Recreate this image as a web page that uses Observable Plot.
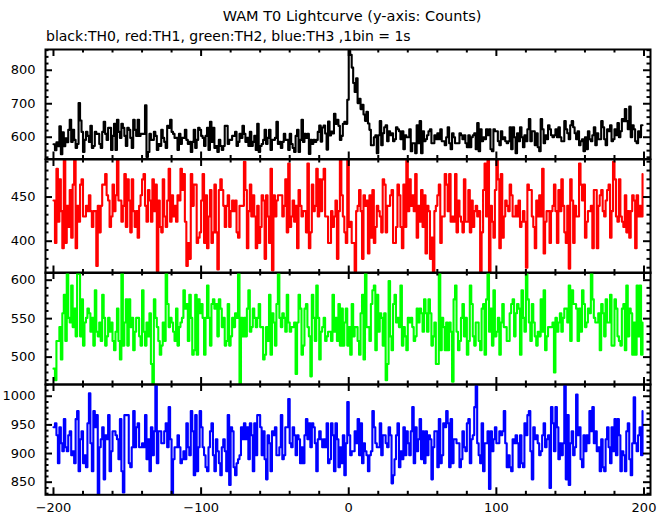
<!DOCTYPE html>
<html>
<head>
<meta charset="utf-8">
<script src="https://cdn.jsdelivr.net/npm/d3@7"></script>
<script src="https://cdn.jsdelivr.net/npm/@observablehq/plot@0.6"></script>
<style>
  html, body { margin: 0; padding: 0; background: #fff; }
  #wrap { position: relative; width: 669px; height: 515px; overflow: hidden; font-family: "DejaVu Sans", sans-serif; color: #000; }
  #title { position: absolute; left: 45px; width: 614px; top: 8px; text-align: center; font-size: 14.5px; }
  #subtitle { position: absolute; left: 46px; top: 28px; font-size: 14px; white-space: nowrap; }
  .panel { position: absolute; left: 0; }
</style>
</head>
<body>
<div id="wrap">
  <div id="title">WAM T0 Lightcurve (y-axis: Counts)</div>
  <div id="subtitle">black:TH0, red:TH1, green:TH2, blue:TH3 ,1bin = 1s</div>
</div>
<script>
// Time bins (s): 1 bin = 1 s, first bin starts at -200
const timeStart = -200;
// TH0 (black) counts per bin
const th0 = [
579,561,585,573,633,549,615,573,597,585,
622,652,586,622,592,568,580,702,650,616,
556,592,616,604,586,634,568,574,616,610,
610,580,568,616,646,610,592,628,628,562,
604,640,562,652,616,598,640,628,604,574,
628,622,598,568,652,622,604,652,604,610,
610,610,695,541,556,610,592,592,616,604,
562,580,574,622,598,586,568,634,628,652,
616,610,598,598,562,610,580,598,598,622,
592,580,586,556,586,622,568,592,628,622,
604,598,574,604,628,562,646,586,628,568,
574,556,592,574,562,574,634,634,580,592,
592,604,604,616,574,586,610,598,634,610,
586,598,574,616,574,586,604,562,640,556,
574,580,592,622,580,598,622,562,592,592,
598,646,580,586,568,586,610,592,592,562,
610,580,568,556,604,622,556,592,652,586,
610,598,610,550,592,580,592,586,592,616,
635,587,629,635,611,563,647,605,617,611,
670,640,652,634,592,604,640,646,640,712,
858,846,808,762,735,776,702,715,684,697,
668,649,676,641,622,576,576,600,606,552,
606,648,576,612,630,636,588,618,606,612,
588,594,630,624,618,594,618,564,606,600,
600,624,558,582,582,552,636,582,648,552,
618,588,594,606,618,624,582,582,606,594,
612,594,624,588,588,576,600,630,582,564,
612,600,582,582,582,612,606,594,606,582,
570,606,570,600,606,612,564,642,558,624,
588,600,594,624,606,624,564,558,624,618,
618,588,576,618,594,600,588,582,588,630,
564,630,600,552,612,588,630,600,570,606,
588,624,654,588,618,618,576,612,570,558,
654,624,582,606,594,636,624,606,600,606,
624,600,630,600,588,588,648,624,612,594,
636,648,630,612,594,618,576,588,594,558,
600,564,618,594,588,606,630,576,612,594,
594,648,630,594,576,624,618,636,588,594,
624,606,642,600,618,654,648,684,648,624,
692,600,636,624,588,582,618,600,636,636
];
// TH1 (red)
const th1 = [
446,398,482,422,470,434,392,497,398,440,
416,458,404,464,492,392,440,422,464,470,
428,428,440,434,452,434,416,434,434,372,
440,410,440,464,464,476,452,446,416,428,
464,434,452,493,446,446,422,440,476,416,
470,446,410,470,434,416,434,404,440,452,
470,476,440,422,458,446,422,470,434,464,
366,446,416,410,470,428,416,446,482,422,
452,428,440,422,452,446,482,458,476,422,
372,398,380,476,440,464,464,398,404,410,
446,476,398,452,392,428,458,398,410,464,
410,368,458,470,458,440,416,440,452,416,
434,446,434,446,410,404,440,440,440,490,
458,392,434,464,428,452,428,392,440,398,
416,452,446,380,452,428,398,482,367,452,
428,446,452,452,452,428,440,470,410,488,
416,428,446,422,440,392,458,440,428,434,
434,410,488,392,410,464,434,440,482,428,
470,434,470,482,428,428,398,398,434,416,
428,446,380,434,496,452,428,410,398,495,
416,422,398,398,366,434,440,458,434,380,
452,440,446,386,452,404,458,398,416,440,
434,428,410,470,464,410,440,440,452,458,
398,398,416,464,452,416,392,464,416,491,
434,470,440,452,434,476,404,440,422,458,
416,452,386,440,434,380,404,362,434,440,
452,464,398,428,428,476,464,434,476,422,
428,422,476,410,446,428,422,410,470,422,
422,458,410,446,416,434,440,428,434,365,
410,458,488,428,499,364,440,422,404,458,
497,470,392,476,404,428,446,440,434,464,
452,428,428,440,428,446,416,422,434,422,
370,464,458,458,428,416,392,446,428,452,
428,482,386,422,434,434,398,434,440,464,
434,398,458,434,470,440,410,398,440,369,
470,446,398,440,428,428,488,464,446,464,
404,422,434,434,440,392,458,458,392,440,
452,458,434,428,446,458,464,404,434,490,
470,428,422,470,428,422,416,452,410,434,
404,434,452,446,392,452,428,440,428,476
];
// TH2 (green)
const th2 = [
485,470,521,521,539,497,557,581,521,612,
551,545,593,539,563,527,615,608,527,575,
515,545,551,563,557,533,551,515,587,533,
527,545,521,581,551,515,527,551,533,545,
521,509,533,563,521,497,611,515,545,575,
515,575,539,551,509,533,551,551,527,515,
587,533,515,545,527,557,491,466,575,551,
539,521,503,515,545,521,612,569,539,551,
545,533,521,563,515,539,545,551,587,563,
569,521,581,551,503,509,581,503,575,557,
569,551,503,551,593,551,515,569,575,563,
569,527,575,563,539,551,515,521,569,515,
527,551,539,557,551,615,465,551,527,551,
527,563,587,533,539,563,551,539,551,569,
539,539,497,503,539,521,581,503,557,545,
515,569,610,551,539,557,551,533,581,545,
533,539,539,545,478,545,581,563,503,515,
563,569,539,527,475,581,551,521,593,551,
497,533,539,551,521,527,533,533,521,581,
533,551,521,569,515,563,515,545,563,515,
539,503,569,527,539,539,521,503,557,581,
497,613,539,539,521,569,587,593,509,581,
533,557,551,515,557,470,491,599,527,509,
569,581,545,551,539,593,515,539,527,509,
551,545,551,539,521,527,563,545,563,557,
533,575,557,533,575,557,515,527,545,491,
491,612,509,551,539,509,545,509,545,533,
468,575,593,533,509,521,551,569,527,551,
503,521,593,569,527,515,545,545,521,509,
563,569,503,575,613,533,563,515,587,527,
533,551,503,545,569,539,539,521,521,557,
569,575,527,557,569,563,503,587,551,533,
611,575,545,521,569,545,527,515,533,527,
575,533,587,509,527,539,539,539,545,480,
551,533,545,557,533,551,563,563,545,593,
521,587,569,569,563,521,563,533,587,569,
539,545,563,557,609,575,551,545,545,557,
509,569,557,527,575,545,545,581,515,515,
575,563,527,521,515,563,569,509,593,527,
563,557,503,545,503,593,527,593,503,545
];
// TH3 (blue)
const th3 = [
946,953,932,883,946,918,904,960,911,904,
932,939,897,904,883,960,974,869,925,939,
883,897,876,953,1005,918,869,974,946,967,
828,911,925,946,855,932,925,967,869,904,
939,939,932,925,890,960,869,832,967,967,
967,883,876,911,974,911,946,953,911,911,
918,911,967,890,925,869,946,897,939,1020,
883,939,939,918,918,939,953,911,981,925,
829,890,911,911,932,911,883,890,904,890,
953,911,897,974,939,862,967,869,911,974,
946,911,897,876,869,911,939,953,897,869,
925,904,883,862,911,925,904,869,967,845,
946,939,876,862,883,890,897,946,925,953,
925,946,890,953,932,869,953,897,967,967,
946,897,939,890,855,932,918,869,939,932,
946,897,897,911,967,890,897,946,946,995,
918,911,946,932,897,932,925,883,911,883,
932,960,925,953,911,953,946,918,869,925,
939,925,911,925,911,953,883,890,953,932,
869,953,925,876,911,883,932,862,918,990,
932,897,904,904,939,918,960,897,953,883,
918,904,897,869,897,904,974,946,918,911,
911,953,897,932,932,918,911,946,932,848,
862,890,932,953,876,904,890,946,897,939,
918,897,939,981,883,946,904,925,960,890,
939,883,939,897,932,925,855,911,939,939,
876,960,883,897,953,946,974,953,876,960,
883,925,925,918,918,876,890,939,911,904,
953,960,883,925,932,981,1018,918,897,883,
953,869,918,918,939,838,939,904,925,946,
918,918,939,932,939,974,918,876,897,876,
869,925,918,932,918,876,932,883,876,953,
932,967,974,904,855,946,925,932,918,897,
904,932,953,911,925,932,840,981,953,904,
981,946,890,918,897,918,1020,855,967,845,
918,939,897,911,1003,932,946,890,876,932,
904,932,918,974,939,981,918,939,904,911,
869,925,876,869,925,946,911,883,946,904,
960,897,960,932,869,904,897,869,939,953,
890,862,918,998,918,904,932,946,897,974
];

// Axis tick values
const xMajor = [-200, -100, 0, 100, 200];
const xMinor = [-180, -160, -140, -120, -80, -60, -40, -20, 20, 40, 60, 80, 120, 140, 160, 180];
const xLabels = [-200, -100, 0, 100, 200];
const xDomain = [-205.4, 204.4];

const panels = [
  {values: th0, color: "#000000", domain: [535, 862],     major: [600, 700, 800],         minorStep: 20, top: 49,    bottom: 158.5},
  {values: th1, color: "#ff0000", domain: [364, 492.5],   major: [400, 450],              minorStep: 10, top: 158.5, bottom: 272},
  {values: th2, color: "#00ff00", domain: [464.4, 610],   major: [500, 550, 600],         minorStep: 10, top: 272,   bottom: 384},
  {values: th3, color: "#0000ff", domain: [828, 1020.5],  major: [850, 900, 950, 1000],   minorStep: 10, top: 384,   bottom: 494.3}
];

const wrap = document.getElementById("wrap");
const W = 669, ML = 45, MR = 19, pad = 2;

panels.forEach((p, i) => {
  const last = i === panels.length - 1;
  const innerH = p.bottom - p.top;
  const mb = last ? 21 : pad;
  const H = innerH + pad + mb;
  const data = p.values.map((v, k) => ({t: timeStart + k, c: v}));
  const lo = Math.ceil(p.domain[0] / p.minorStep) * p.minorStep;
  const yMinor = d3.range(lo, p.domain[1], p.minorStep).filter(v => !p.major.includes(v));
  const innerW = W - ML - MR;
  const maj = 7, mnr = 3.5;
  const marks = [
    Plot.line(data, {x: "t", y: "c", curve: "step-after", stroke: p.color, strokeWidth: 2.1, clip: true}),
    Plot.tickX(xMajor, {x: d => d, insetBottom: innerH - maj, stroke: "black", strokeWidth: 2}),
    Plot.tickX(xMajor, {x: d => d, insetTop: innerH - maj, stroke: "black", strokeWidth: 2}),
    Plot.tickX(xMinor, {x: d => d, insetBottom: innerH - mnr, stroke: "black", strokeWidth: 2}),
    Plot.tickX(xMinor, {x: d => d, insetTop: innerH - mnr, stroke: "black", strokeWidth: 2}),
    Plot.tickY(p.major, {y: d => d, insetRight: innerW - maj, stroke: "black", strokeWidth: 2}),
    Plot.tickY(p.major, {y: d => d, insetLeft: innerW - maj, stroke: "black", strokeWidth: 2}),
    Plot.tickY(yMinor, {y: d => d, insetRight: innerW - mnr, stroke: "black", strokeWidth: 2}),
    Plot.tickY(yMinor, {y: d => d, insetLeft: innerW - mnr, stroke: "black", strokeWidth: 2}),
    Plot.axisY({ticks: p.major, tickSize: 0, tickPadding: 10, fontSize: 13, label: null, tickFormat: d => String(d)}),
    Plot.frame({stroke: "black", strokeWidth: 2})
  ];
  if (last) {
    marks.push(Plot.axisX({ticks: xLabels, tickSize: 0, tickPadding: 8, fontSize: 13, label: null}));
  }
  const chart = Plot.plot({
    width: W,
    height: H,
    marginLeft: ML,
    marginRight: MR,
    marginTop: pad,
    marginBottom: mb,
    x: {domain: xDomain, axis: null},
    y: {domain: p.domain, axis: null},
    style: {fontFamily: "DejaVu Sans, sans-serif", color: "black", background: "transparent", overflow: "visible"},
    marks
  });
  chart.classList.add("panel");
  chart.style.top = (p.top - pad) + "px";
  wrap.appendChild(chart);
});
</script>
</body>
</html>
